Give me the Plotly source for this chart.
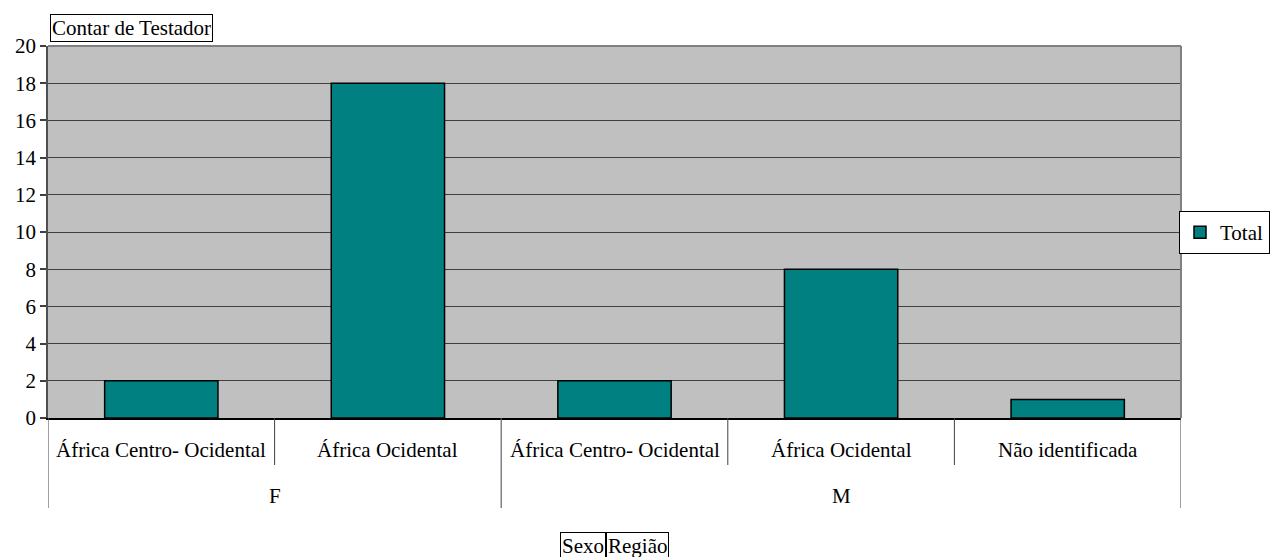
import plotly.graph_objects as go

# Pivot-table style data: Sexo > Região, count of testators
sexo = ["F", "F", "M", "M", "M"]
regiao = ["África Centro- Ocidental", "África Ocidental",
          "África Centro- Ocidental", "África Ocidental", "Não identificada"]
total = [2, 18, 2, 8, 1]
y_ticks = [0, 2, 4, 6, 8, 10, 12, 14, 16, 18, 20]

FONT = "Liberation Serif, Times New Roman, DejaVu Serif, serif"
FS = 21
W, H = 1270, 557
ML, MR, MT, MB = 48, 89, 46, 139
plot_w = W - ML - MR
plot_h = H - MT - MB

xpos = list(range(len(total)))

fig = go.Figure()
fig.add_trace(go.Bar(
    x=xpos, y=total, name="Total", width=0.5,
    marker=dict(color="#008080", line=dict(color="#000000", width=1.5)),
))

shapes = []
annotations = []

# inner-level category labels and short dividers
for i, lab in enumerate(regiao):
    annotations.append(dict(x=i, xref="x", y=0, yref="paper", yshift=-32,
                            text=lab, showarrow=False, yanchor="middle",
                            font=dict(family=FONT, size=FS, color="black")))
for b in [0.5, 2.5, 3.5]:
    shapes.append(dict(type="line", xref="x", yref="paper", x0=b, x1=b,
                       ysizemode="pixel", yanchor=0, y0=0, y1=-47,
                       line=dict(color="#404040", width=1)))

# outer-level labels (Sexo) and long dividers
groups = {}
for i, s in enumerate(sexo):
    groups.setdefault(s, []).append(i)
for s, idx in groups.items():
    annotations.append(dict(x=(idx[0] + idx[-1]) / 2, xref="x", y=0, yref="paper",
                            yshift=-78, text=s, showarrow=False, yanchor="middle",
                            font=dict(family=FONT, size=FS, color="black")))
for b in [-0.5, 1.5, 4.5]:
    shapes.append(dict(type="line", xref="x", yref="paper", x0=b, x1=b,
                       ysizemode="pixel", yanchor=0, y0=0, y1=-90,
                       line=dict(color="#606060", width=1.2)))

# plot frame: grey top and right edges
shapes.append(dict(type="line", xref="paper", yref="paper", x0=0, x1=1, y0=1, y1=1,
                   line=dict(color="#808080", width=2)))
shapes.append(dict(type="line", xref="paper", yref="paper", x0=1, x1=1, y0=0, y1=1,
                   line=dict(color="#808080", width=2)))

# field buttons
box = dict(showarrow=False, bordercolor="black", borderwidth=1, borderpad=1,
           bgcolor="white", font=dict(family=FONT, size=FS, color="black"))
annotations.append(dict(text="Contar de Testador", xref="paper", yref="paper",
                        x=(50 - ML) / plot_w, y=1, yshift=4,
                        xanchor="left", yanchor="bottom", **box))
annotations.append(dict(text="Sexo", xref="paper", yref="paper",
                        x=(606 - ML) / plot_w, y=0, yshift=-114,
                        xanchor="right", yanchor="top", **box))
annotations.append(dict(text="Região", xref="paper", yref="paper",
                        x=(606 - ML) / plot_w, y=0, yshift=-114,
                        xanchor="left", yanchor="top", **box))

fig.update_layout(
    width=W, height=H,
    margin=dict(l=ML, r=MR, t=MT, b=MB, pad=0, autoexpand=False),
    paper_bgcolor="white", plot_bgcolor="#C0C0C0",
    font=dict(family=FONT, size=FS, color="black"),
    showlegend=True,
    legend=dict(x=(1270 - ML) / plot_w, y=(H - MB - 232.5) / plot_h,
                xanchor="right", yanchor="middle",
                bordercolor="black", borderwidth=1, bgcolor="white",
                font=dict(family=FONT, size=FS, color="black"),
                itemwidth=30, tracegroupgap=0),
    xaxis=dict(range=[-0.5, 4.5], showticklabels=False, ticks="",
               showgrid=False, zeroline=False, showline=True,
               linecolor="black", linewidth=1.5, fixedrange=True),
    yaxis=dict(range=[0, 20], tickvals=y_ticks, ticks="outside", ticklen=6,
               tickcolor="#404040", tickwidth=1.5, showgrid=True,
               gridcolor="#404040", gridwidth=1, zeroline=False,
               showline=True, linecolor="#505050", linewidth=1.5,
               tickfont=dict(family=FONT, size=FS, color="black")),
    shapes=shapes, annotations=annotations,
)

fig.write_html("out.html")
